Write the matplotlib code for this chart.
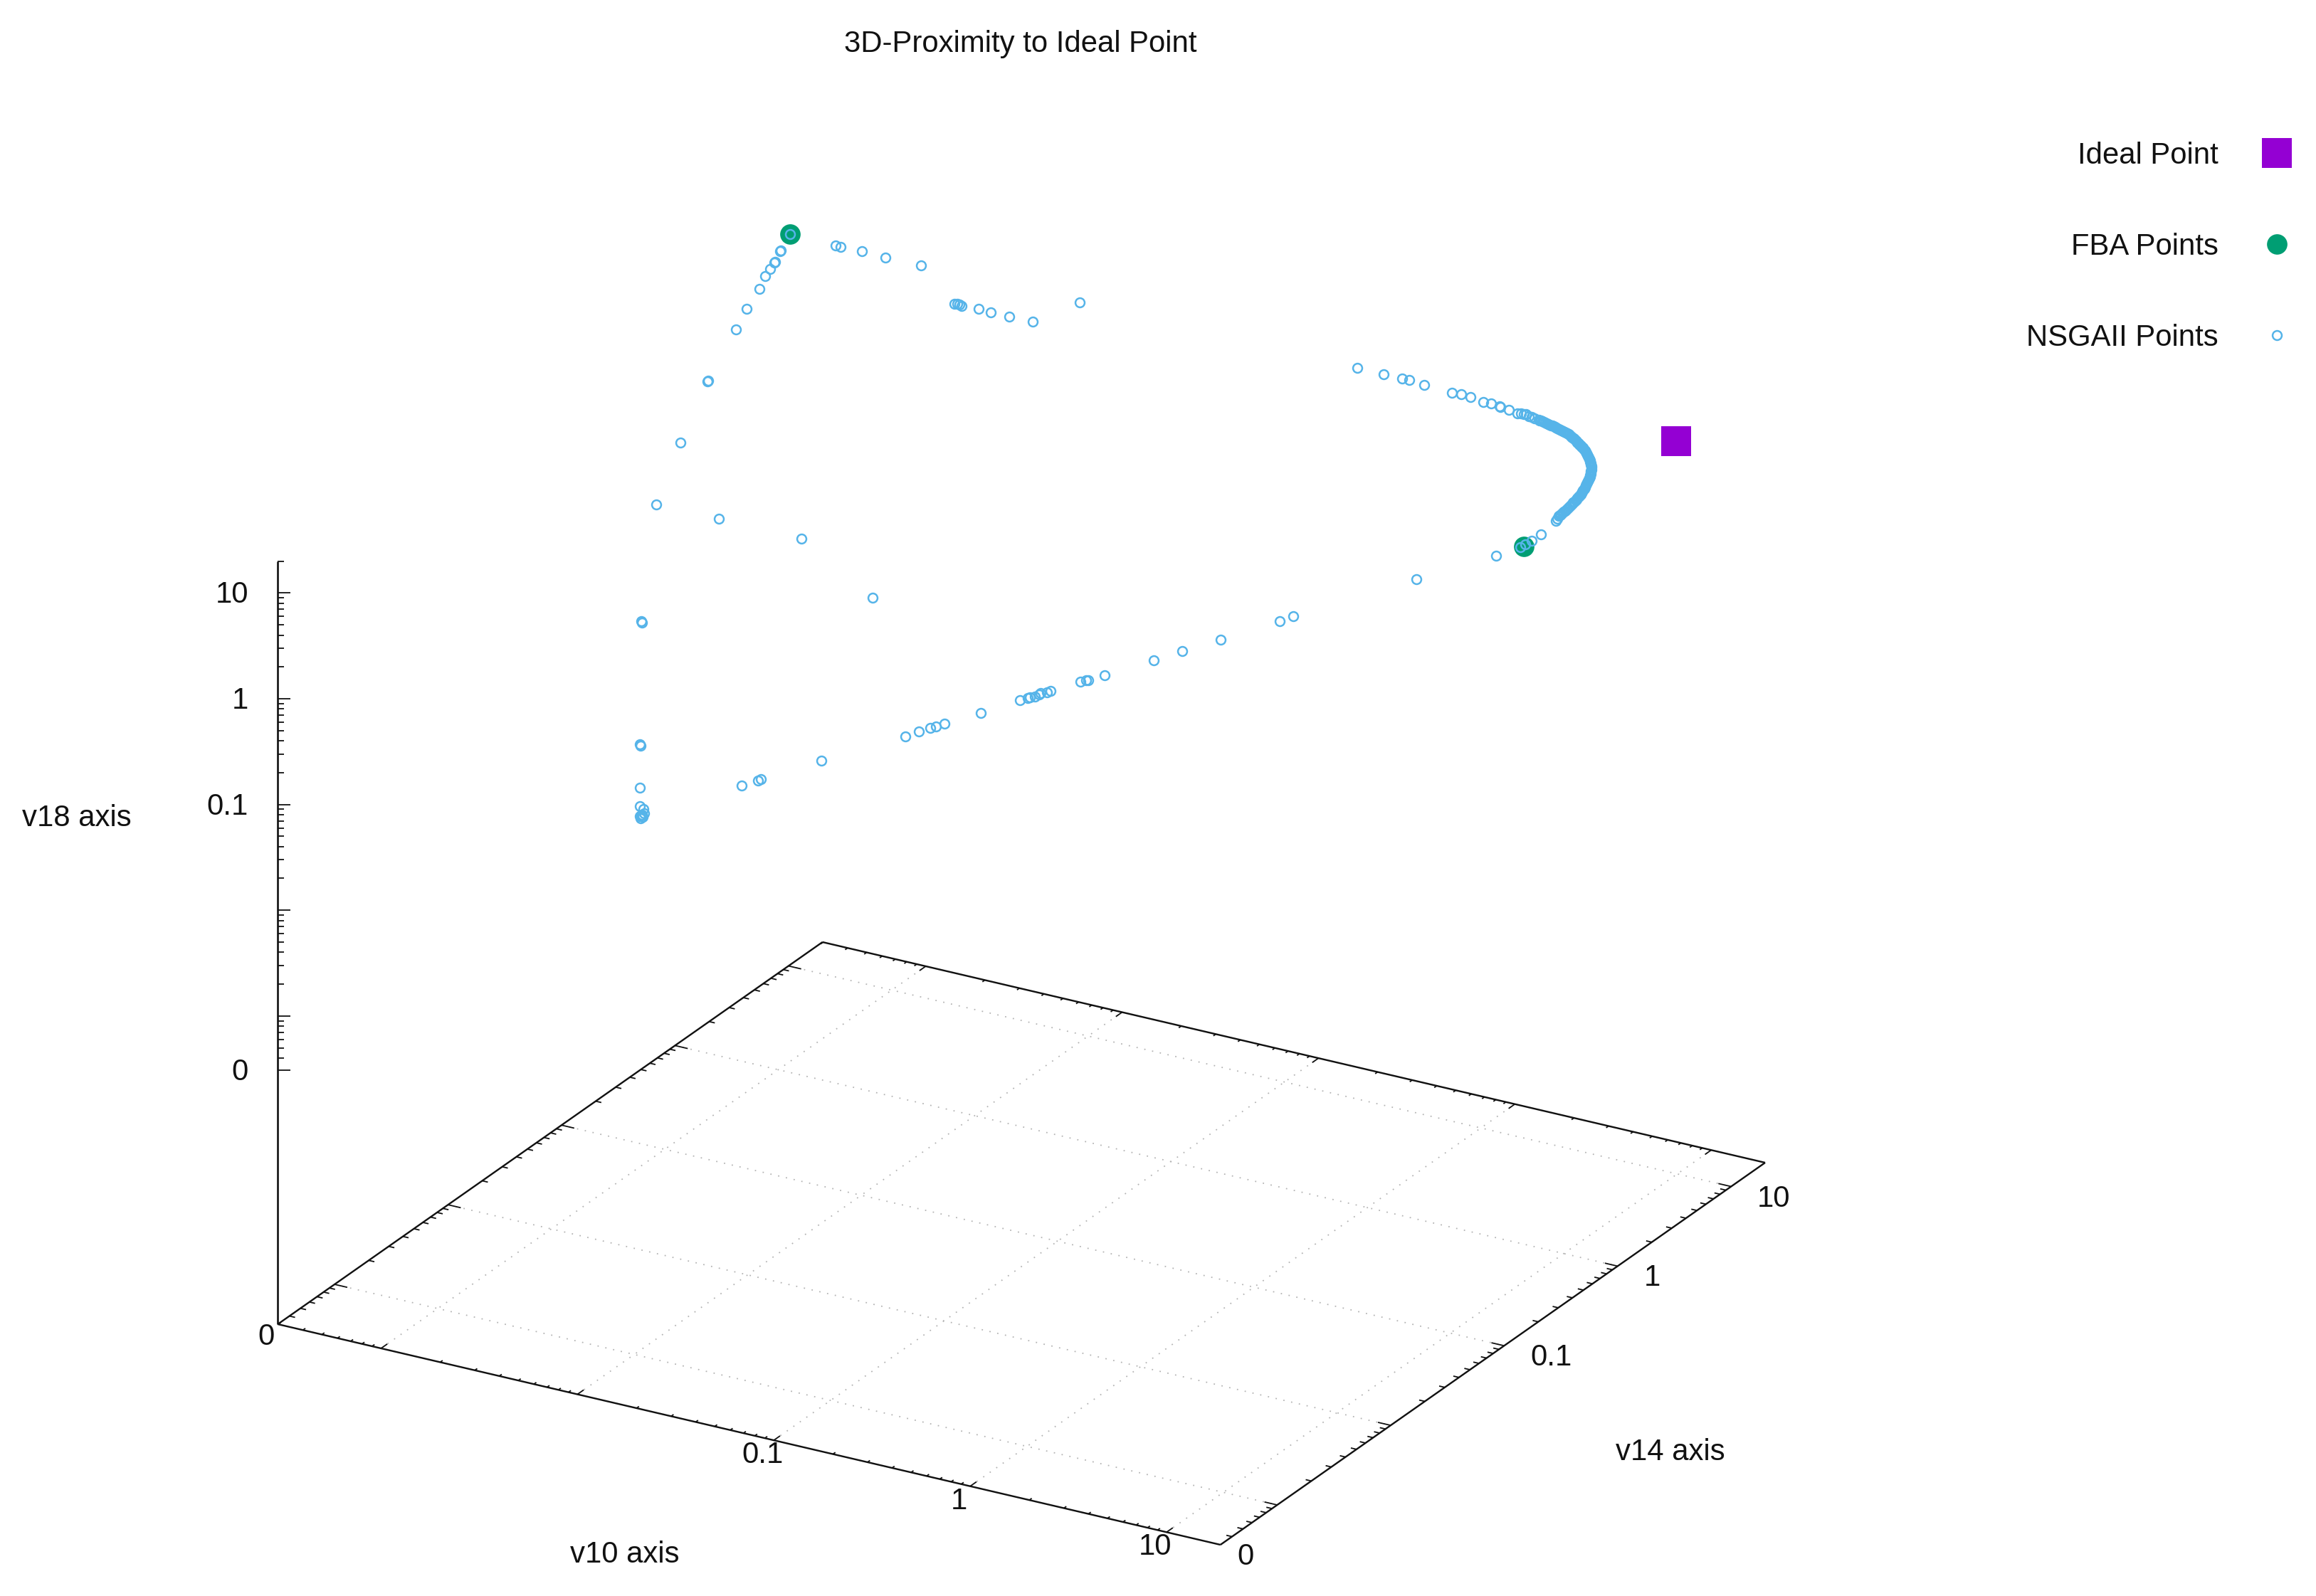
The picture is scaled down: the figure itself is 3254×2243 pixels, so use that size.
import numpy as np
import matplotlib
matplotlib.use("Agg")
import matplotlib.pyplot as plt

plt.rcParams['font.family'] = ['Liberation Sans', 'DejaVu Sans']

W, H = 3254, 2243
PX = 72 / 100  # points per reference pixel at dpi 100

TITLE = "3D-Proximity to Ideal Point"
X_LABEL = "v10 axis"
Y_LABEL = "v14 axis"
Z_LABEL = "v18 axis"

# The picture shows only the projected view, so points are stored as read from that view.
nsga_view_x = [
    1110.2, 1096.4, 1097.5, 1087.8, 1089.0, 1081.6, 1075.5, 1066.8, 1049.0, 1033.7, 993.9, 995.0, 955.6,
    1174.0, 1181.1, 1210.7, 1243.9, 1293.9, 1340.8, 1344.9, 1347.9, 1351.0, 1375.0, 1391.8, 1418.4, 1451.0, 1516.8,
    922.4, 1009.8, 1125.9, 1226.0, 901.0, 902.0, 898.9, 899.8, 898.9, 898.9, 904.0,
    898.9, 902.0, 905.0, 900.0, 903.0, 901.0,
    1042.3, 1064.7, 1069.1, 1154.0, 1271.9, 1291.1, 1307.0, 1315.3, 1326.8, 1378.4,
    1433.5, 1443.8, 1447.3, 1454.5, 1460.3, 1462.5, 1471.4, 1475.9, 1518.3, 1526.3, 1529.5, 1551.8,
    1621.0, 1660.7, 1715.2, 1797.8, 1817.4, 1990.2, 2101.6,
    1907.2, 1944.3, 1969.9, 1979.9, 2000.9, 2040.0, 2053.3, 2066.4, 2083.6, 2095.0, 2106.9, 2107.9, 2119.6, 2132.2,
    2136.8, 2140.6, 2144.4, 2148.3, 2152.1, 2155.9, 2161.6, 2165.5, 2169.3, 2173.1, 2176.9, 2180.8, 2184.6, 2188.4,
    2192.3, 2196.1, 2199.9, 2203.7, 2206.8, 2209.5, 2212.5, 2215.2, 2217.9, 2220.9, 2224.0, 2226.7, 2228.6, 2231.3,
    2233.2, 2234.4, 2235.5, 2235.9, 2235.5, 2234.8, 2233.6, 2231.7, 2230.2, 2227.9, 2225.6, 2223.3, 2221.0, 2217.9,
    2215.2, 2212.2, 2208.7, 2204.9, 2201.1, 2197.2, 2193.4, 2190.4, 2188.1, 2186.5, 2165.1, 2152.1, 2143.3, 2136.0,
]
nsga_view_y = [
    329.3, 353.3, 351.5, 369.3, 367.5, 377.7, 388.0, 405.7, 434.0, 462.7, 535.7, 534.5, 621.7,
    344.7, 347.0, 353.3, 362.0, 373.0, 427.3, 426.7, 428.3, 430.3, 434.0, 438.7, 445.0, 451.7, 425.3,
    709.0, 729.0, 757.3, 840.3, 873.0, 875.0, 1046.0, 1047.5, 1106.7, 1132.7, 1137.3,
    1147.0, 1145.0, 1143.0, 1150.0, 1148.0, 1146.0,
    1104.3, 1097.3, 1095.3, 1069.3, 1034.7, 1028.0, 1023.3, 1021.3, 1016.7, 1001.7,
    984.0, 981.0, 980.0, 979.3, 976.0, 974.0, 972.7, 970.7, 958.0, 956.3, 955.7, 949.3,
    927.7, 914.7, 899.0, 873.0, 866.3, 814.0, 781.0,
    517.0, 525.7, 532.3, 534.3, 541.0, 551.7, 554.0, 558.3, 565.0, 567.0, 571.3, 572.0, 576.0, 580.7,
    581.0, 581.7, 582.3, 584.7, 586.0, 587.7, 590.0, 591.3, 593.3, 595.0, 596.7, 598.3, 600.0, 601.7,
    604.0, 605.7, 607.7, 610.0, 612.7, 614.7, 617.3, 620.0, 623.3, 626.0, 629.3, 632.7, 636.7, 640.7,
    645.0, 649.0, 653.3, 657.3, 661.7, 666.0, 670.0, 674.0, 678.3, 682.3, 686.7, 690.7, 695.0, 698.3,
    701.7, 705.0, 707.7, 711.7, 715.7, 719.3, 723.3, 725.3, 729.3, 731.7, 750.7, 760.0, 765.0, 769.3,
]
nsga_dense_x = [
    2163.5, 2167.4, 2171.2, 2175.0, 2178.9, 2182.7, 2186.5, 2190.4, 2194.2, 2198.0, 2201.8, 2205.2, 2208.1, 2211.0,
    2213.8, 2216.5, 2219.4, 2222.4, 2225.3, 2227.6, 2230.0, 2232.2, 2233.8, 2235.0, 2235.7, 2235.7, 2235.2, 2234.2,
    2232.7, 2230.9, 2229.0, 2226.8, 2224.4, 2222.1, 2219.5, 2216.5, 2213.7, 2210.5, 2206.8, 2203.0, 2199.1, 2195.3,
    2191.9,
]
nsga_dense_y = [
    590.7, 592.3, 594.2, 595.8, 597.5, 599.2, 600.8, 602.8, 604.8, 606.7, 608.8, 611.3, 613.7, 616.0,
    618.6, 621.6, 624.7, 627.6, 631.0, 634.7, 638.7, 642.8, 647.0, 651.2, 655.3, 659.5, 663.8, 668.0,
    672.0, 676.2, 680.3, 684.5, 688.7, 692.8, 696.7, 700.0, 703.3, 706.3, 709.7, 713.7, 717.5, 721.3,
    724.3,
]
fba_view_x = [1110.2, 2140.6]
fba_view_y = [329.3, 768.3]
ideal_view_x = [2355.0]
ideal_view_y = [620.0]

x_tick_labels = ["0.1", "1", "10"]
y_tick_labels = ["0", "0.1", "1", "10"]
z_tick_labels = ["0", "0.1", "1", "10"]

X_MIN, X_DECADES = 2.98e-4, 4.80
Y_MIN, Y_DECADES = 3.16e-4, 4.80
Z_MIN, Z_MAX = 3.07e-4, 20.0
DECADES = [1e-3, 1e-2, 1e-1, 1.0, 10.0]

ORIGIN = np.array([390.3, 1861.0])
VEC_X = np.array([1324.4, 310.0])
VEC_Y = np.array([765.3, -537.0])
Z_REF_Y, Z_PER_DECADE = 982.0, 148.6

def frac_x(v):
    return (np.log10(v) - np.log10(X_MIN)) / X_DECADES

def frac_y(v):
    return (np.log10(v) - np.log10(Y_MIN)) / Y_DECADES

def floor_pt(fx, fy):
    return ORIGIN + fx * VEC_X + fy * VEC_Y

def zpos(v):
    return Z_REF_Y - Z_PER_DECADE * np.log10(v)

def minors(vmin, vmax):
    out = []
    for e in range(-5, 3):
        for m in range(2, 10):
            v = m * 10.0 ** e
            if vmin * 0.999 <= v <= vmax * 1.001:
                out.append(v)
    return out

fig = plt.figure(figsize=(W / 100, H / 100), dpi=100)
ax = fig.add_axes([0, 0, 1, 1])
ax.set_xlim(0, W)
ax.set_ylim(H, 0)
ax.axis("off")

AXLW = 2.4 * PX
GRID = dict(color="#b4b4b4", lw=1.8 * PX, linestyle=(0, (1, 5.2)), zorder=1)
BLK = dict(color="#111111", lw=AXLW, zorder=2, solid_capstyle="butt")
TICK = dict(color="#111111", lw=1.8 * PX, zorder=2, solid_capstyle="butt")
X_MAJ, X_MINOR = 0.0115, 0.0045
Y_MAJ, Y_MINOR = 0.0135, 0.006

def seg(a, b, **kw):
    ax.plot([a[0], b[0]], [a[1], b[1]], **kw)

# grid
for v in DECADES:
    f = frac_x(v)
    seg(floor_pt(f, 0), floor_pt(f, 1), **GRID)
    f = frac_y(v)
    seg(floor_pt(0, f), floor_pt(1, f), **GRID)

# floor border
corners = [floor_pt(0, 0), floor_pt(1, 0), floor_pt(1, 1), floor_pt(0, 1), floor_pt(0, 0)]
for a, b in zip(corners[:-1], corners[1:]):
    seg(a, b, **BLK)

# floor ticks on all four edges
xmax = X_MIN * 10 ** X_DECADES
ymax = Y_MIN * 10 ** Y_DECADES
for vals, ln in ((DECADES, X_MAJ), (minors(X_MIN, xmax), X_MINOR)):
    for v in vals:
        f = frac_x(v)
        seg(floor_pt(f, 0), floor_pt(f, ln), **TICK)
        seg(floor_pt(f, 1), floor_pt(f, 1 - ln), **TICK)
for vals, ln in ((DECADES, Y_MAJ), (minors(Y_MIN, ymax), Y_MINOR)):
    for v in vals:
        f = frac_y(v)
        seg(floor_pt(0, f), floor_pt(ln, f), **TICK)
        seg(floor_pt(1, f), floor_pt(1 - ln, f), **TICK)

# vertical axis
zx = ORIGIN[0]
ax.plot([zx, zx], [ORIGIN[1], zpos(Z_MAX)], color="#111111", lw=AXLW * 1.1, zorder=2, solid_capstyle="butt")
for v in DECADES + [Z_MIN]:
    ax.plot([zx, zx + 17.6], [zpos(v)] * 2, **TICK)
for v in minors(Z_MIN, Z_MAX):
    ax.plot([zx, zx + 8.8], [zpos(v)] * 2, **TICK)

FS = 41.9 * PX
TXT = dict(fontsize=FS, color="#111111", ha="center", va="center", zorder=5)

# tick labels
for lab, v in zip(z_tick_labels, [Z_MIN, 0.1, 1.0, 10.0]):
    ax.text(349, zpos(v) + 3, lab, **{**TXT, "ha": "right"})
ax.text(374, 1879, "0", **TXT)
for lab, v in zip(x_tick_labels, [0.1, 1.0, 10.0]):
    p = floor_pt(frac_x(v), 0)
    ax.text(p[0] - 16, p[1] + 21, lab, **TXT)
for lab, v in zip(y_tick_labels, [Y_MIN, 0.1, 1.0, 10.0]):
    p = floor_pt(1, frac_y(v))
    ax.text(p[0] + (24 if lab == "0" else 37), p[1] + 17, lab, **{**TXT, "ha": "left"})

# titles and axis labels
ax.text(1434, 62, TITLE, **TXT)
ax.text(108, 1150, Z_LABEL, **TXT)
ax.text(878, 2185, X_LABEL, **TXT)
ax.text(2347, 2041, Y_LABEL, **TXT)

# series
h_ideal, = ax.plot(ideal_view_x, ideal_view_y, ls="none", marker="s", ms=41.5 * PX, mew=0,
                   color="#9400D3", zorder=3, label="Ideal Point")
h_fba, = ax.plot(fba_view_x, fba_view_y, ls="none", marker="o", ms=28.7 * PX, mew=0,
                 color="#009E73", zorder=3, label="FBA Points")
h_nsga, = ax.plot(nsga_view_x + nsga_dense_x, nsga_view_y + nsga_dense_y, ls="none", marker="o",
                  ms=12.9 * PX, mew=2.5 * PX, mfc="none", mec="#56B4E9", zorder=4, label="NSGAII Points")

ax.legend(handles=[h_ideal, h_fba, h_nsga], loc="upper right",
          bbox_to_anchor=(3209.7 / W, 1 - 199 / H), bbox_transform=ax.transAxes,
          frameon=False, markerfirst=False, numpoints=1, fontsize=FS,
          labelspacing=2.1, handlelength=0.5, handletextpad=1.72,
          borderpad=0, borderaxespad=0, labelcolor="#111111")

fig.savefig("out.png", dpi=100)
